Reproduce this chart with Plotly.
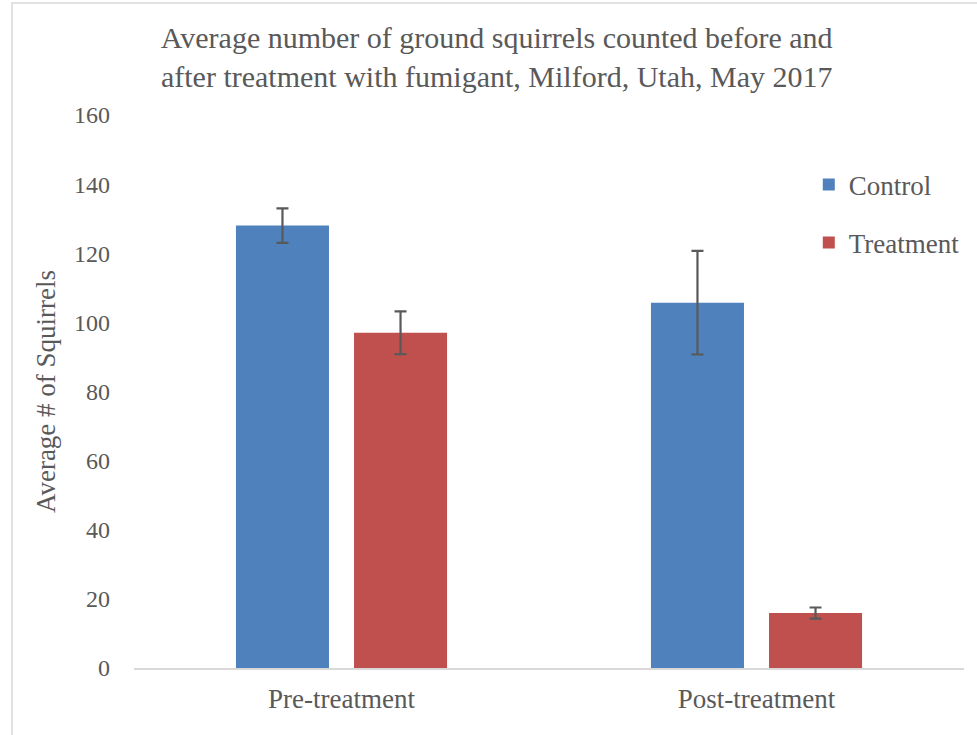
import plotly.graph_objects as go

categories = ["Pre-treatment", "Post-treatment"]
control = [128, 105.7]
control_err = [5, 15]
treatment = [97, 15.9]
treatment_err = [6.2, 1.6]
series_names = ["Control", "Treatment"]
colors = ["#4f81bd", "#c0504d"]
title = "Average number of ground squirrels counted before and<br>after treatment with fumigant, Milford, Utah, May 2017"

FONT = "Liberation Serif"
TXT = "#595959"

fig = go.Figure()
for name, vals, errs, col, grp in [
    (series_names[0], control, control_err, colors[0], "a"),
    (series_names[1], treatment, treatment_err, colors[1], "b"),
]:
    fig.add_trace(go.Bar(
        x=categories, y=vals, name=name, legendgroup=grp,
        marker=dict(color=col, line=dict(width=0)),
        error_y=dict(type="data", array=errs, visible=True,
                     color="#595959", thickness=2.2, width=6),
    ))

fig.update_layout(
    width=977, height=735,
    paper_bgcolor="white", plot_bgcolor="white",
    margin=dict(l=134, r=13, t=115, b=67),
    barmode="group", bargap=0.431, bargroupgap=0.212,
    font=dict(family=FONT, color=TXT, size=24),
    title=dict(text=title, x=0.437, xanchor="center", xref="paper",
               y=0.935, yanchor="top", font=dict(family=FONT, size=30, color=TXT)),
    showlegend=True,
    legend=dict(x=0.813, y=0.918, xanchor="left", yanchor="top",
                font=dict(family=FONT, size=27, color=TXT),
                tracegroupgap=20, itemwidth=30, bgcolor="rgba(0,0,0,0)"),
    xaxis=dict(showline=True, linecolor="#d9d9d9", linewidth=1.5,
               ticks="", tickfont=dict(family=FONT, size=27, color=TXT),
               ticklabelstandoff=6),
    yaxis=dict(range=[0, 160], dtick=20, showgrid=False, zeroline=False,
               showline=False, ticks="", tickfont=dict(family=FONT, size=24, color=TXT),
               ticklabelstandoff=23,
               title=dict(text="Average # of Squirrels", standoff=10,
                          font=dict(family=FONT, size=27, color=TXT))),
    shapes=[dict(type="rect", xref="paper", yref="paper",
                 x0=-0.147, x1=1.2, y0=-0.3, y1=1.2025,
                 line=dict(color="#d9d9d9", width=1.5), fillcolor="rgba(0,0,0,0)")],
)

fig.write_html("out.html", post_script="document.body.style.margin='0';",
               config={"displayModeBar": False})
